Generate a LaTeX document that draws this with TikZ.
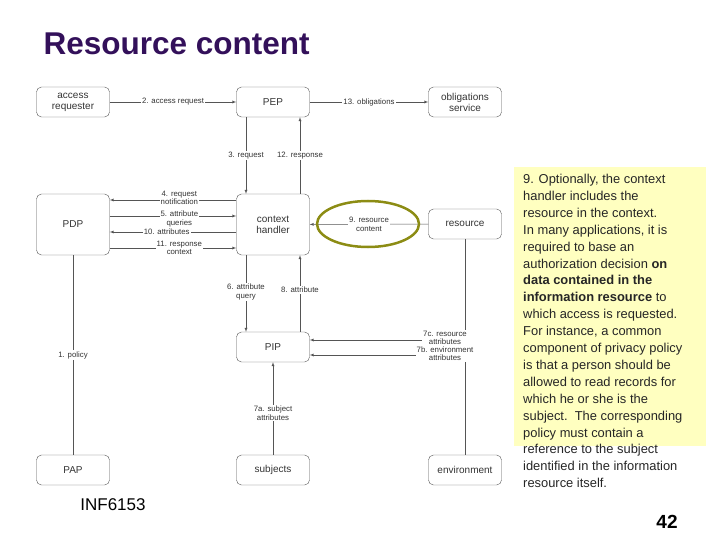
\documentclass[tikz,border=0pt]{standalone}
\usepackage{fontspec}
\setmainfont{Liberation Sans}
\usetikzlibrary{arrows}
\definecolor{titlecol}{HTML}{33105A}
\definecolor{notecol}{HTML}{FFFFC0}
\definecolor{ringcol}{HTML}{8C8C14}
\definecolor{linecol}{HTML}{555555}
\tikzset{
  box/.style={draw=linecol, rounded corners=5pt, minimum width=73pt,
    align=center, font=\fontsize{10}{11}\selectfont, text=black!80},
  flow/.style={draw=linecol, -latex},
  lbl/.style={fill=white, inner sep=1pt, align=center,
    font=\fontsize{7.8}{8.2}\selectfont, text=black!80}
}
\begin{document}
\begin{tikzpicture}[x=1pt,y=-1pt]
\useasboundingbox (0,0) rectangle (720,540);
\node[anchor=west, font=\fontsize{31.5}{33}\selectfont\bfseries, text=titlecol] (title) at (40,44) {Resource content};

% boxes
\node[box, minimum height=30pt] (req) at (73,102) {access\\requester};
\node[box, minimum height=30pt] (pep) at (273,102) {PEP};
\node[box, minimum height=30pt] (obl) at (465,102) {obligations\\service};
\node[box, minimum height=61pt] (pdp) at (73,224.5) {PDP};
\node[box, minimum height=61pt] (ctx) at (273,224.5) {context\\handler};
\node[box, minimum height=30pt] (res) at (465,224) {resource};
\node[box, minimum height=30pt] (pip) at (273,347) {PIP};
\node[box, minimum height=30pt] (pap) at (73,470) {PAP};
\node[box, minimum height=30pt] (sub) at (273,470) {subjects};
\node[box, minimum height=30pt] (env) at (465,470) {environment};

% connectors
\draw[flow] (req) -- node[lbl] {2. access request} (pep);
\draw[flow] (pep) -- node[lbl] {13. obligations} (obl);
\draw[flow] ([xshift=-27pt]pep.south) -- node[lbl] {3. request} ([xshift=-27pt]ctx.north);
\draw[flow] ([xshift=27pt]ctx.north) -- node[lbl] {12. response} ([xshift=27pt]pep.south);
\draw[flow] (ctx.west |- 0,200) -- node[lbl, pos=.45, yshift=2pt] {4. request\\notification} (pdp.east |- 0,200);
\draw[flow] (pdp.east |- 0,216) -- node[lbl, pos=.55, yshift=-3pt] {5. attribute\\queries} (ctx.west |- 0,216);
\draw[flow] (ctx.west |- 0,232) -- node[lbl, pos=.55] {10. attributes} (pdp.east |- 0,232);
\draw[flow] (pdp.east |- 0,248) -- node[lbl, pos=.55] {11. response\\context} (ctx.west |- 0,248);
\draw[flow] (res) -- node[lbl] (rc) {9. resource\\content} (ctx);
\draw[ringcol, line width=2.5pt] (368,224) ellipse [x radius=51pt, y radius=23pt];
\draw[flow] ([xshift=-27pt]ctx.south) -- node[lbl, pos=.48] {6. attribute\\query} ([xshift=-27pt]pip.north);
\draw[flow] ([xshift=27pt]pip.north) -- node[lbl, pos=.55] {8. attribute} ([xshift=27pt]ctx.south);
\draw[linecol] (pap) -- node[lbl] {1. policy} (pdp);
\draw[linecol] (res) -- (env);
\coordinate (c7c) at (465,340);
\coordinate (c7b) at (465,355);
\draw[flow] (c7c) -- (pip.east |- c7c);
\draw[flow] (c7b) -- (pip.east |- c7b);
\node[lbl] (l7c) at (445,338) {7c. resource\\attributes};
\node[lbl] (l7b) at (445,354) {7b. environment\\attributes};
\draw[flow] (sub) -- node[lbl, pos=.45] {7a. subject\\attributes} (pip);

% note
\fill[notecol] (514,167) rectangle (706,446);
\node[anchor=north west, align=left, inner sep=0pt, text=black!85,
  font=\fontsize{12.9}{16.9}\selectfont] (note) at (523,174)
  {9. Optionally, the context\\handler includes the\\resource in the context.\\In many applications, it is\\required to base an\\authorization decision \textbf{on}\\\textbf{data contained in the}\\\textbf{information resource} to\\which access is requested.\\For instance, a common\\component of privacy policy\\is that a person should be\\allowed to read records for\\which he or she is the\\subject.\ \ The corresponding\\policy must contain a\\reference to the subject\\identified in the information\\resource itself.};
\node[font=\fontsize{17}{18}\selectfont] (course) at (113,505) {INF6153};
\node[font=\fontsize{19}{20}\selectfont\bfseries] (page) at (667,522) {42};
\end{tikzpicture}
\end{document}
